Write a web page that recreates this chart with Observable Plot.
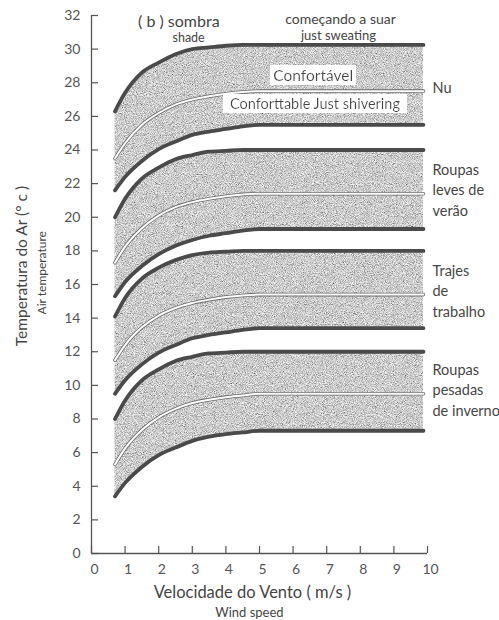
<!DOCTYPE html>
<html><head><meta charset="utf-8">
<script src="https://cdn.jsdelivr.net/npm/d3@7"></script>
<script src="https://cdn.jsdelivr.net/npm/@observablehq/plot@0.6"></script>
<style>
html,body{margin:0;padding:0;background:#fff;}
#chart svg{display:block;}
</style>
</head><body><div id="chart"></div>
<script>
// Wind speed (m/s) sample points along each band
const windSpeed = [0.7, 1.0, 1.5, 2.0, 2.5, 3.0, 3.5, 4.0, 4.5, 5.0, 9.88];

// Band names and right-hand labels
const bandNames = ["Nu", "Roupas leves de verão", "Trajes de trabalho", "Roupas pesadas de inverno"];
const bandLabels = ["Nu", "Roupas\nleves de\nverão", "Trajes\nde\ntrabalho", "Roupas\npesadas\nde inverno"];

// Air temperature (°C): upper edge (just sweating), middle (comfortable), lower edge (just shivering)
const nuUpper     = [26.3, 27.4, 28.6, 29.2, 29.7, 30.0, 30.1, 30.2, 30.25, 30.25, 30.25];
const nuMiddle    = [23.5, 24.4, 25.5, 26.2, 26.7, 27.0, 27.2, 27.35, 27.45, 27.5, 27.5];
const nuLower     = [21.6, 22.4, 23.35, 24.05, 24.5, 24.9, 25.1, 25.25, 25.4, 25.5, 25.5];

const summerUpper  = [20.0, 21.1, 22.3, 22.95, 23.45, 23.7, 23.9, 23.95, 24.0, 24.0, 24.0];
const summerMiddle = [17.3, 18.25, 19.35, 20.1, 20.6, 20.9, 21.1, 21.25, 21.35, 21.4, 21.4];
const summerLower  = [15.3, 16.15, 17.1, 17.8, 18.3, 18.65, 18.9, 19.05, 19.2, 19.3, 19.3];

const workUpper  = [14.1, 15.2, 16.35, 17.0, 17.45, 17.75, 17.9, 17.95, 18.0, 18.0, 18.0];
const workMiddle = [11.5, 12.4, 13.45, 14.15, 14.6, 14.9, 15.1, 15.25, 15.35, 15.4, 15.4];
const workLower  = [9.5, 10.3, 11.25, 11.95, 12.4, 12.8, 13.0, 13.15, 13.3, 13.4, 13.4];

const winterUpper  = [8.0, 9.1, 10.3, 10.95, 11.45, 11.7, 11.9, 11.95, 12.0, 12.0, 12.0];
const winterMiddle = [5.3, 6.25, 7.35, 8.1, 8.6, 8.95, 9.15, 9.3, 9.4, 9.5, 9.5];
const winterLower  = [3.4, 4.2, 5.15, 5.85, 6.3, 6.7, 6.95, 7.1, 7.2, 7.3, 7.3];

// Tick values
const xTicks = [0, 1, 2, 3, 4, 5, 6, 7, 8, 9, 10];
const yTicks = [0, 2, 4, 6, 8, 10, 12, 14, 16, 18, 20, 22, 24, 26, 28, 30, 32];

// Texts
const xTitle = "Velocidade do Vento ( m/s )";
const xSubtitle = "Wind speed";
const yTitle = "Temperatura do Ar (° c )";
const ySubtitle = "Air temperature";
const comfortTop = "Confortável";
const comfortBottom = "Conforttable Just shivering";
const shadeTitle = "( b ) sombra";
const shadeSub = "shade";
const sweatTitle = "começando a suar";
const sweatSub = "just sweating";

const upperSeries = [nuUpper, summerUpper, workUpper, winterUpper];
const middleSeries = [nuMiddle, summerMiddle, workMiddle, winterMiddle];
const lowerSeries = [nuLower, summerLower, workLower, winterLower];

const rows = bandNames.flatMap((band, b) => windSpeed.map((x, i) => ({
  band, x, upper: upperSeries[b][i], middle: middleSeries[b][i], lower: lowerSeries[b][i]
})));
const last = windSpeed.length - 1;
const labelRows = bandNames.map((band, b) => ({label: bandLabels[b], x: xTicks[xTicks.length - 1], y: middleSeries[b][last]}));

const ink = "#454545";
const font = "Lato, 'Open Sans', sans-serif";

const chart = Plot.plot({
  width: 499,
  height: 620,
  marginLeft: 91,
  marginRight: 72,
  marginTop: 15,
  marginBottom: 67,
  x: {domain: [0, 10]},
  y: {domain: [0, 32]},
  style: {fontFamily: font, fontSize: "13px", color: ink, background: "white", overflow: "visible"},
  marks: [
    Plot.areaY(rows, {x: "x", y1: "lower", y2: "upper", z: "band", fill: "url(#grain)", curve: "monotone-x"}),
    Plot.line(rows, {x: "x", y: "upper", z: "band", stroke: "#4a4a4a", strokeWidth: 3.8, curve: "monotone-x"}),
    Plot.line(rows, {x: "x", y: "lower", z: "band", stroke: "#4a4a4a", strokeWidth: 3.8, curve: "monotone-x"}),
    Plot.line(rows, {x: "x", y: "middle", z: "band", stroke: "#6a6a6a", strokeWidth: 3.6, curve: "monotone-x"}),
    Plot.line(rows, {x: "x", y: "middle", z: "band", stroke: "white", strokeWidth: 2, curve: "monotone-x"}),
    Plot.ruleX([0], {stroke: "#555", strokeWidth: 1.3}),
    Plot.ruleY([0], {stroke: "#555", strokeWidth: 1.3}),
    Plot.axisY(yTicks, {anchor: "left", tickSize: -7, tickFormat: () => "", label: null, stroke: "#555", strokeWidth: 1.2}),
    Plot.axisY(yTicks, {anchor: "left", tickSize: 0, tickPadding: 11, label: null, fontSize: 14, fill: "#555"}),
    Plot.axisX(xTicks, {anchor: "bottom", tickSize: -7, tickFormat: () => "", label: null, stroke: "#555", strokeWidth: 1.2}),
    Plot.axisX(xTicks, {anchor: "bottom", tickSize: 0, tickPadding: 11, dx: 3, label: null, fontSize: 14, fill: "#555"}),
    Plot.text(labelRows, {x: "x", y: "y", text: "label", textAnchor: "start", dx: 5, dy: -5, lineHeight: 1.42, fontSize: 14.5, fill: ink}),
    Plot.text([{t: comfortTop, x: 6.6, y: 28.4}], {x: "x", y: "y", text: "t", fontSize: 15.5, fill: ink, ariaDescription: "boxed"}),
    Plot.text([{t: comfortBottom, x: 6.65, y: 26.7}], {x: "x", y: "y", text: "t", fontSize: 14.5, fill: ink, ariaDescription: "boxed"}),
    Plot.text([{t: shadeTitle, x: 2.6, y: 31.65}], {x: "x", y: "y", text: "t", fontSize: 16, fill: ink}),
    Plot.text([{t: shadeSub, x: 2.89, y: 30.64}], {x: "x", y: "y", text: "t", fontSize: 12.5, fill: ink}),
    Plot.text([{t: sweatTitle, x: 7.41, y: 31.77}], {x: "x", y: "y", text: "t", fontSize: 14, fill: ink}),
    Plot.text([{t: sweatSub, x: 7.35, y: 30.82}], {x: "x", y: "y", text: "t", fontSize: 13, fill: ink}),
    Plot.text([{t: yTitle, y: 17.1}], {y: "y", text: "t", frameAnchor: "left", textAnchor: "middle", lineAnchor: "middle", dx: -69, rotate: -90, fontSize: 15.5, fill: ink}),
    Plot.text([{t: ySubtitle, y: 16.7}], {y: "y", text: "t", frameAnchor: "left", textAnchor: "middle", lineAnchor: "middle", dx: -49, rotate: -90, fontSize: 12, fill: ink}),
    Plot.text([{t: xTitle, x: 4.79}], {x: "x", text: "t", frameAnchor: "bottom", lineAnchor: "middle", dy: 39, fontSize: 16.5, fill: ink}),
    Plot.text([{t: xSubtitle, x: 4.7}], {x: "x", text: "t", frameAnchor: "bottom", lineAnchor: "middle", dy: 59, fontSize: 13, fill: ink})
  ]
});

// Definitions for the stippled fill and the white label boxes
const svg = d3.select(chart);
const defs = svg.insert("defs", ":first-child");
const noise = defs.append("filter").attr("id", "noise").attr("x", 0).attr("y", 0).attr("width", 1).attr("height", 1);
noise.append("feTurbulence").attr("type", "fractalNoise").attr("baseFrequency", 1.1).attr("numOctaves", 2).attr("seed", 7).attr("result", "n");
noise.append("feColorMatrix").attr("in", "n").attr("type", "matrix")
  .attr("values", "1.3 0 0 0 -0.05  1.3 0 0 0 -0.05  1.3 0 0 0 -0.05  0 0 0 0 1");
defs.append("pattern").attr("id", "grain").attr("patternUnits", "userSpaceOnUse")
  .attr("x", 0).attr("y", 0).attr("width", 499).attr("height", 620)
  .append("rect").attr("width", 499).attr("height", 620).attr("fill", "#999").attr("filter", "url(#noise)");
const box = defs.append("filter").attr("id", "boxbg").attr("x", -0.035).attr("y", -0.02).attr("width", 1.07).attr("height", 1.04);
box.append("feFlood").attr("flood-color", "white").attr("result", "f");
box.append("feComposite").attr("in", "SourceGraphic").attr("in2", "f").attr("operator", "over");
svg.selectAll("g[aria-description=boxed] text").attr("filter", "url(#boxbg)");

document.getElementById("chart").appendChild(chart);
</script>
</body></html>
